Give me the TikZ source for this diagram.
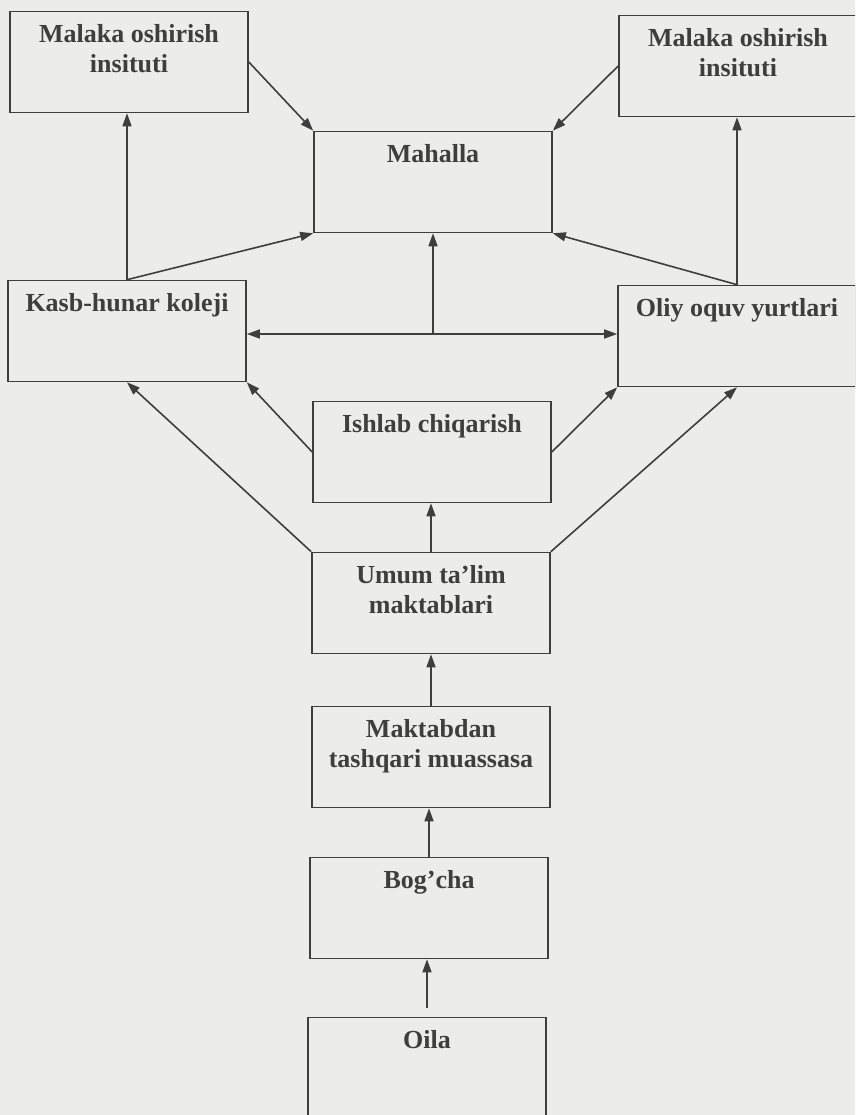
\documentclass[tikz,border=0pt]{standalone}
\usepackage{fontspec}
\setmainfont{Liberation Serif}
\usepackage{tikz}
\usetikzlibrary{positioning, arrows.meta, calc}
\definecolor{scanpaper}{RGB}{236, 236, 234}
\definecolor{inkgray}{RGB}{62, 62, 62}

\begin{document}
\begin{tikzpicture}[x=1pt, y=-1pt,
    inst/.style={draw=inkgray, line width=1.6pt, text=inkgray, inner sep=0pt,
                 minimum width=238pt, text height=31pt, text depth=70pt, align=center,
                 font=\fontsize{26}{30}\selectfont\bfseries},
    insttwo/.style={inst, text height=61pt, text depth=40pt},
    link/.style={draw=inkgray, line width=1.6pt, -{Triangle[length=13pt, width=9pt]}}]
  \fill[scanpaper] (0,0) rectangle (855,1115);
  \clip (0,0) rectangle (855,1115);

  % upper row
  \node[insttwo] (malL) at (129,62) {Malaka oshirish\\insituti};
  \node[insttwo] (malR) at (738,66) {Malaka oshirish\\insituti};
  \node[inst] (mahalla) at (433,182) {Mahalla};
  % middle row
  \node[inst] (kasb) at (127,331) {Kasb-hunar koleji};
  \node[inst] (oliy) at (737,336) {Oliy oquv yurtlari};
  \node[inst] (ishlab) at (432,452) {Ishlab chiqarish};
  % central column
  \node[insttwo] (umum) at (431,603) {Umum ta'lim\\maktablari};
  \node[insttwo] (maktab) at (431,757) {Maktabdan\\tashqari muassasa};
  \node[inst] (bogcha) at (429,908) {Bog'cha};
  \node[inst] (oila) at (427,1068) {Oila};

  \coordinate (hub) at (mahalla.south |- 0,334);

  \draw[link] (malL.east) -- (mahalla.north west);
  \draw[link] (malR.west) -- (mahalla.north east);
  \draw[link] (kasb.north) -- (kasb.north |- malL.south);
  \draw[link] (kasb.north) -- (mahalla.south west);
  \draw[link] (oliy.north) -- (oliy.north |- malR.south);
  \draw[link] (oliy.north) -- (mahalla.south east);
  \draw[link] (hub) -- (mahalla.south);
  \draw[link] (hub) -- (hub -| kasb.east);
  \draw[link] (hub) -- (hub -| oliy.west);
  \draw[link] (ishlab.west) -- (kasb.south east);
  \draw[link] (ishlab.east) -- (oliy.south west);
  \draw[link] (umum.north west) -- (kasb.south);
  \draw[link] (umum.north east) -- (oliy.south);
  \draw[link] (umum.north) -- (umum.north |- ishlab.south);
  \draw[link] (maktab.north) -- (maktab.north |- umum.south);
  \draw[link] (bogcha.north) -- (bogcha.north |- maktab.south);
  \draw[link, shorten <=9pt] (oila.north) -- (oila.north |- bogcha.south);
\end{tikzpicture}
\end{document}
